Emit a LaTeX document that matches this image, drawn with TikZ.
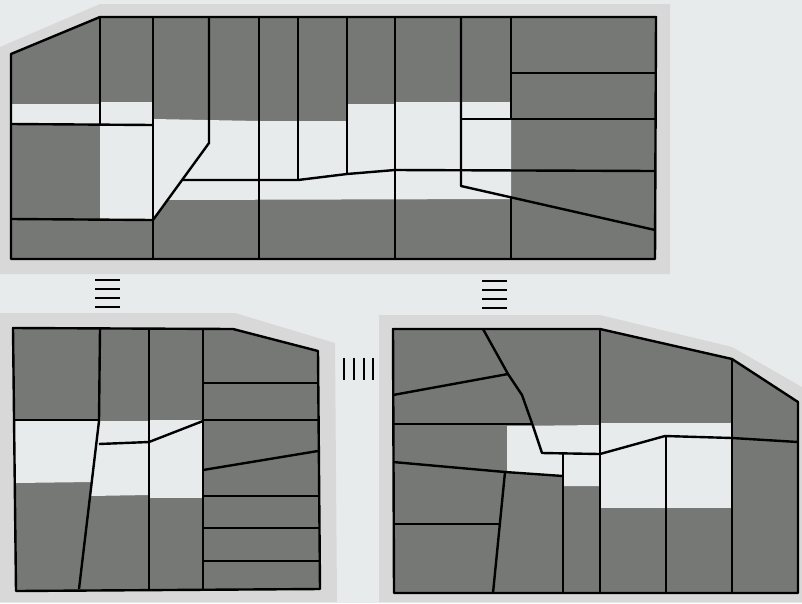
\documentclass[tikz,border=0pt]{standalone}
\usepackage{tikz}
\definecolor{paper}{RGB}{232,235,236}
\definecolor{rim}{RGB}{216,216,216}
\definecolor{block}{RGB}{118,120,118}

\begin{document}
\begin{tikzpicture}[
    x=1pt, y=-1pt,
    wall/.style={line width=2.4pt, line join=round},
    bar/.style={line width=2.6pt},
    rimfill/.style={fill=rim},
    lot/.style={fill=block},
    court/.style={fill=paper}
]
\fill[paper] (0,0) rectangle (802,603);
\useasboundingbox (0,0) rectangle (802,603);

% Top plan
\fill[rimfill] (0,47) -- (100,4) -- (670,4) -- (670,274) -- (0,274) -- cycle;
\fill[lot] (11,54) -- (100,17) -- (656,17) -- (655,259) -- (11,259) -- cycle;
\fill[court] (11,104) rectangle (100,124);
\fill[court] (100,102) rectangle (153,219);
\fill[court] (153,119) -- (259,121) -- (347,121) -- (347,104) -- (395,104)
    -- (395,102) -- (511,102) -- (511,199) -- (167,200) -- (153,219) -- cycle;

\draw[wall] (11,54) -- (100,17) -- (656,17) -- (655,259) -- (11,259) -- cycle;
\draw[wall] (100,17) -- (100,125);
\draw[wall] (11,124) -- (153,125);
\draw[wall] (11,219) -- (153,220);
\draw[wall] (209,17) -- (209,143) -- (153,220);
\draw[wall] (183,180) -- (298,180) -- (347,174) -- (395,170) -- (655,171);
\draw[wall] (461,17) -- (461,186) -- (655,230);
\draw[wall] (461,119) -- (655,119);
\draw[wall] (511,73) -- (655,73);
\draw[wall] (511,17) -- (511,119);
\draw[wall] (511,197) -- (511,259);
\draw[wall] (298,17) -- (298,180);
\draw[wall] (347,17) -- (347,174);
\foreach \x in {153,259,395}
    \draw[wall] (\x,17) -- (\x,259);

% Bottom left plan
\fill[rimfill] (0,313) -- (235,313) -- (335,343) -- (337,602) -- (0,602) -- cycle;
\fill[lot] (13,328) -- (233,329) -- (318,351) -- (320,589) -- (16,591) -- cycle;
\fill[court] (14,421) -- (99,421) -- (92,482) -- (15,483) -- cycle;
\fill[court] (99,421) -- (149,421) -- (149,495) -- (90,496) -- cycle;
\fill[court] (149,420) rectangle (203,498);

\draw[wall] (13,328) -- (233,329) -- (318,351) -- (320,589) -- (16,591) -- cycle;
\draw[wall] (13,420) -- (100,420);
\draw[wall] (100,329) -- (99,421) -- (79,589);
\draw[wall] (99,444) -- (149,442) -- (203,421);
\foreach \x in {149,203}
    \draw[wall] (\x,329) -- (\x,590);
\draw[wall] (203,383) -- (318,383);
\draw[wall] (203,420) -- (318,420);
\draw[wall] (203,470) -- (318,451);
\foreach \y in {496,528,561}
    \draw[wall] (203,\y) -- (319,\y);

% Bottom right plan
\fill[rimfill] (379,315) -- (600,315) -- (732,347) -- (802,387) -- (802,602) -- (379,602) -- cycle;
\fill[lot] (393,329) -- (600,329) -- (732,359) -- (798,402) -- (798,593) -- (394,593) -- cycle;
\fill[court] (507,426) -- (600,425) -- (600,486) -- (563,486) -- (563,476) -- (507,472) -- cycle;
\fill[court] (600,423) rectangle (732,508);

\draw[wall] (393,329) -- (600,329) -- (732,359) -- (798,402) -- (798,593) -- (394,593) -- cycle;
\draw[wall] (483,329) -- (508,374) -- (522,395) -- (533,426) -- (542,453) -- (600,454);
\draw[wall] (393,395) -- (508,374);
\draw[wall] (393,424) -- (532,424);
\draw[wall] (393,462) -- (505,472) -- (563,476);
\draw[wall] (505,472) -- (493,593);
\draw[wall] (393,524) -- (499,524);
\draw[wall] (563,454) -- (563,593);
\draw[wall] (600,329) -- (600,593);
\draw[wall] (600,454) -- (665,436) -- (732,438) -- (798,442);
\draw[wall] (666,436) -- (666,593);
\draw[wall] (732,359) -- (732,593);

% Marks
\foreach \y in {280,289,298,307}
    \draw[bar] (95,\y) -- (120,\y);
\foreach \y in {281,290,299,308}
    \draw[bar] (482,\y) -- (507,\y);
\foreach \x in {344,354,364,373}
    \draw[bar] (\x,358) -- (\x,380);

\end{tikzpicture}
\end{document}
